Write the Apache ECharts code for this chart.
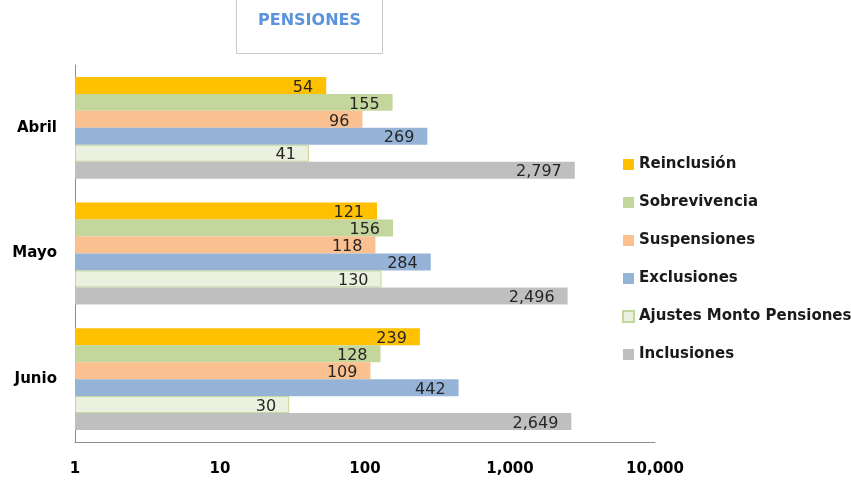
<!DOCTYPE html>
<html>
<head>
<meta charset="utf-8">
<script src="https://cdn.jsdelivr.net/npm/echarts@6/dist/echarts.min.js"></script>
<style>
  html, body { margin: 0; padding: 0; background: #fff; }
  #main { width: 851px; height: 486px; }
</style>
</head>
<body>
<div id="main"></div>
<script>
var meses = ['Abril', 'Mayo', 'Junio'];
var reinclusion = [54, 121, 239];
var sobrevivencia = [155, 156, 128];
var suspensiones = [96, 118, 109];
var exclusiones = [269, 284, 442];
var ajustes = [41, 130, 30];
var inclusiones = [2797, 2496, 2649];

var chartDom = document.getElementById('main');
var myChart = echarts.init(chartDom, null, { renderer: 'canvas' });
var fuente = '"DejaVu Sans", Verdana, sans-serif';

var fmt = function (v) { return Number(v).toLocaleString('en-US'); };

var serie = function (name, data, color, border) {
    return {
        name: name,
        type: 'bar',
        data: data,
        barGap: '0%',
        barCategoryGap: '19%',
        itemStyle: {
            color: color,
            borderColor: border || color,
            borderWidth: border ? 1 : 0
        },
        label: {
            show: true,
            position: 'insideRight',
            distance: 13,
            offset: [0, 2],
            color: '#262626',
            fontFamily: fuente,
            fontSize: 16,
            formatter: function (p) { return fmt(p.value); }
        }
    };
};

var option = {
    animation: false,
    title: {
        text: 'PENSIONES',
        left: 236,
        top: -1,
        padding: [14, 22, 25, 22],
        borderColor: '#c8c8c8',
        borderWidth: 1,
        textStyle: {
            color: '#5b93dc',
            fontFamily: fuente,
            fontWeight: 'bold',
            fontSize: 16
        }
    },
    legend: {
        orient: 'vertical',
        left: 617,
        top: 152,
        itemGap: 23,
        itemWidth: 11,
        itemHeight: 11,
        icon: 'rect',
        textStyle: {
            color: '#1a1a1a',
            fontFamily: fuente,
            fontWeight: 'bold',
            fontSize: 15
        }
    },
    grid: {
        left: 75,
        right: 196,
        top: 65,
        bottom: 44,
        containLabel: false
    },
    xAxis: {
        type: 'log',
        logBase: 10,
        min: 1,
        max: 10000,
        splitLine: { show: false },
        axisTick: { show: false },
        axisLine: { show: true, lineStyle: { color: '#8c8c8c' } },
        axisLabel: {
            margin: 20,
            color: '#000',
            fontFamily: fuente,
            fontWeight: 'bold',
            fontSize: 15,
            formatter: fmt
        }
    },
    yAxis: {
        type: 'category',
        data: meses,
        inverse: true,
        axisTick: { show: false },
        axisLine: { show: true, lineStyle: { color: '#8c8c8c' } },
        axisLabel: {
            margin: 18,
            color: '#000',
            fontFamily: fuente,
            fontWeight: 'bold',
            fontSize: 15
        }
    },
    series: [
        serie('Reinclusión', reinclusion, '#ffc000'),
        serie('Sobrevivencia', sobrevivencia, '#c3d69b'),
        serie('Suspensiones', suspensiones, '#fac090'),
        serie('Exclusiones', exclusiones, '#95b3d7'),
        serie('Ajustes Monto Pensiones', ajustes, '#ebf1de', '#c3d69b'),
        serie('Inclusiones', inclusiones, '#bfbfbf')
    ]
};

option && myChart.setOption(option);
</script>
</body>
</html>
